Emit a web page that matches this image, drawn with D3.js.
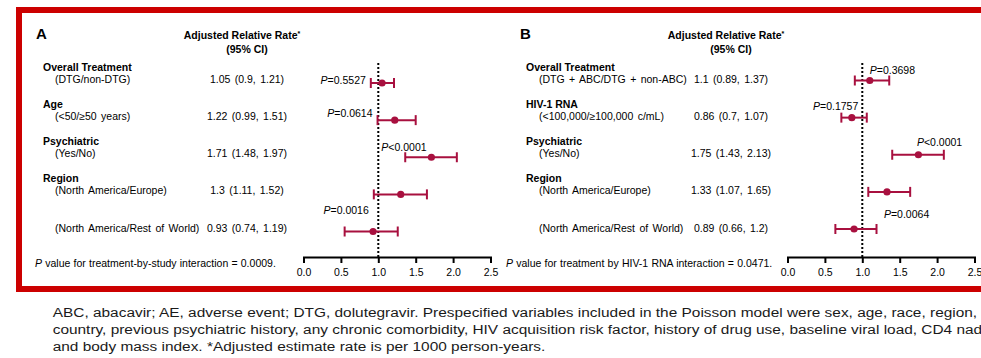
<!DOCTYPE html>
<html>
<head>
<meta charset="utf-8">
<script src="https://cdn.jsdelivr.net/npm/d3@7"></script>
<style>
  body { margin: 0; background: #fff; }
  svg text { font-family: "Liberation Sans", Arial, sans-serif; fill: #000; }
</style>
</head>
<body>
<svg id="chart" width="981" height="358"></svg>
<script>
// ---- data ----
const titlesA = ['Overall Treatment', 'Age', 'Psychiatric', 'Region', ''];
const subsA = ['(DTG/non-DTG)', '(<50/≥50 years)', '(Yes/No)', '(North America/Europe)', '(North America/Rest of World)'];
const estA = [1.05, 1.22, 1.71, 1.3, 0.93];
const lowA = [0.9, 0.99, 1.48, 1.11, 0.74];
const highA = [1.21, 1.51, 1.97, 1.52, 1.19];
// whiskers as drawn in panel A (some are wider than the printed CI)
const barLowA = [0.9, 0.99, 1.36, 0.94, 0.55];
const barHighA = [1.21, 1.5, 2.05, 1.65, 1.26];
const pA = ['=0.5527', '=0.0614', '<0.0001', '=0.0016'];
const noteA = ' value for treatment-by-study interaction = 0.0009.';

const titlesB = ['Overall Treatment', 'HIV-1 RNA', 'Psychiatric', 'Region', ''];
const subsB = ['(DTG + ABC/DTG + non-ABC)', '(<100,000/≥100,000 c/mL)', '(Yes/No)', '(North America/Europe)', '(North America/Rest of World)'];
const estB = [1.1, 0.86, 1.75, 1.33, 0.89];
const lowB = [0.89, 0.7, 1.43, 1.07, 0.66];
const highB = [1.37, 1.07, 2.13, 1.65, 1.2];
const barLowB = [0.9, 0.72, 1.4, 1.08, 0.64];
const barHighB = [1.36, 1.06, 2.09, 1.64, 1.19];
const pB = ['=0.3698', '=0.1757', '<0.0001', '=0.0064'];
const noteB = ' value for treatment by HIV-1 RNA interaction = 0.0471.';

const tickValues = [0, 0.5, 1, 1.5, 2, 2.5];
const footLines = [
  'ABC, abacavir; AE, adverse event; DTG, dolutegravir. Prespecified variables included in the Poisson model were sex, age, race, region,',
  'country, previous psychiatric history, any chronic comorbidity, HIV acquisition risk factor, history of drug use, baseline viral load, CD4 nadir,',
  'and body mass index. *Adjusted estimate rate is per 1000 person-years.'
];

// ---- layout ----
const red = '#cc0000';
const barColor = '#a8103f';
const fs = 10.5;

// where each P label sits: row (may be between rows), which x to hang it on, anchor, nudges
const pPlaceA = [
  { row: 0, of: 0, at: 'low', anchor: 'end', dx: -5, dy: 1 },
  { row: 1, of: 1, at: 'low', anchor: 'end', dx: -5, dy: -3.5 },
  { row: 2, of: 2, at: 'ref', anchor: 'start', dx: 3, dy: -6 },
  { row: 3.5, of: 3, at: 'ref', anchor: 'end', dx: -9.5, dy: 1.5 }
];
const pPlaceB = [
  { row: 0, of: 0, at: 'est', anchor: 'start', dx: 0, dy: -7 },
  { row: 1, of: 1, at: 'ref', anchor: 'end', dx: -4, dy: -8 },
  { row: 2, of: 2, at: 'est', anchor: 'start', dx: -1.5, dy: -9 },
  { row: 3.5, of: 3, at: 'est', anchor: 'start', dx: -3, dy: 8 }
];

const panels = [
  { letter: 'A', titles: titlesA, subs: subsA, est: estA, low: lowA, high: highA,
    barLow: barLowA, barHigh: barHighA, p: pA, note: noteA,
    pPlace: pPlaceA, dx: 0, barShift: 0, noteX: 35 },
  { letter: 'B', titles: titlesB, subs: subsB, est: estB, low: lowB, high: highB,
    barLow: barLowB, barHigh: barHighB, p: pB, note: noteB,
    pPlace: pPlaceB, dx: 484, barShift: -2.5, noteX: 506 }
];

const svg = d3.select('#chart');

// red frame (runs off the right edge like the source slide)
svg.append('rect')
  .attr('x', 19).attr('y', 10)
  .attr('width', 1000).attr('height', 279)
  .attr('fill', 'none')
  .attr('stroke', red)
  .attr('stroke-width', 6);

const rowY = d3.scaleLinear().domain([0, 4]).range([83, 231.5]);
const axisY = 257;

panels.forEach(pn => {
  const g = svg.append('g').attr('transform', `translate(${pn.dx},0)`);
  const x = d3.scaleLinear().domain([0, 2.5]).range([303.5, 490.5]);
  const valueX = 247;
  const by = i => rowY(i) + pn.barShift;

  g.append('text')
    .attr('x', 36).attr('y', 38.5)
    .attr('font-size', 15).attr('font-weight', 'bold')
    .text(pn.letter);

  const head = g.append('text')
    .attr('x', valueX - 5).attr('y', 38.5)
    .attr('text-anchor', 'middle')
    .attr('font-size', fs).attr('font-weight', 'bold');
  head.append('tspan').text('Adjusted Relative Rate');
  head.append('tspan').attr('font-size', 7).attr('dy', -3).text('*');
  g.append('text')
    .attr('x', valueX).attr('y', 52.5)
    .attr('text-anchor', 'middle')
    .attr('font-size', fs).attr('font-weight', 'bold')
    .text('(95% CI)');

  // row labels
  g.selectAll('.title').data(pn.titles).join('text')
    .attr('class', 'title')
    .attr('x', 43 + (pn.dx ? -1 : 0)).attr('y', (d, i) => rowY(i) - 12.5)
    .attr('font-size', fs).attr('font-weight', 'bold')
    .text(d => d);
  g.selectAll('.sub').data(pn.subs).join('text')
    .attr('class', 'sub')
    .attr('x', 55).attr('y', (d, i) => rowY(i))
    .attr('font-size', fs).attr('word-spacing', 1.5)
    .text(d => d);
  g.selectAll('.val').data(pn.est).join('text')
    .attr('class', 'val')
    .attr('x', valueX).attr('y', (d, i) => rowY(i))
    .attr('text-anchor', 'middle')
    .attr('font-size', fs).attr('word-spacing', 1.5)
    .text((d, i) => `${d} (${pn.low[i]}, ${pn.high[i]})`);

  // reference line at 1
  g.append('line')
    .attr('x1', x(1)).attr('x2', x(1))
    .attr('y1', 63).attr('y2', axisY)
    .attr('stroke', '#000').attr('stroke-width', 2)
    .attr('stroke-dasharray', '2,2');

  // error bars
  const bars = g.selectAll('.bar').data(pn.est).join('g').attr('class', 'bar');
  bars.append('line')
    .attr('x1', (d, i) => x(pn.barLow[i])).attr('x2', (d, i) => x(pn.barHigh[i]))
    .attr('y1', (d, i) => by(i)).attr('y2', (d, i) => by(i))
    .attr('stroke', barColor).attr('stroke-width', 2);
  [pn.barLow, pn.barHigh].forEach(arr => {
    bars.append('line')
      .attr('x1', (d, i) => x(arr[i])).attr('x2', (d, i) => x(arr[i]))
      .attr('y1', (d, i) => by(i) - 5).attr('y2', (d, i) => by(i) + 5)
      .attr('stroke', barColor).attr('stroke-width', 2);
  });
  bars.append('circle')
    .attr('cx', d => x(d)).attr('cy', (d, i) => by(i))
    .attr('r', 3.6).attr('fill', barColor);

  // P labels
  pn.pPlace.forEach((pl, k) => {
    const xv = pl.at === 'ref' ? 1 : pl.at === 'low' ? pn.barLow[pl.of] : pn.est[pl.of];
    const t = g.append('text')
      .attr('x', x(xv) + pl.dx).attr('y', by(pl.row) + pl.dy)
      .attr('text-anchor', pl.anchor)
      .attr('font-size', fs);
    t.append('tspan').attr('font-style', 'italic').text('P');
    t.append('tspan').text(pn.p[k]);
  });

  // interaction note
  const nt = g.append('text')
    .attr('x', pn.noteX - pn.dx).attr('y', 266.5)
    .attr('font-size', fs).attr('word-spacing', 0.3);
  nt.append('tspan').attr('font-style', 'italic').text('P');
  nt.append('tspan').text(pn.note);

  // axis
  const axis = d3.axisBottom(x)
    .tickValues(tickValues)
    .tickFormat(d3.format('.1f'))
    .tickSize(6).tickSizeOuter(6).tickPadding(6);
  const ag = g.append('g').attr('transform', `translate(0,${axisY})`).call(axis);
  ag.select('.domain').attr('stroke-width', 2);
  ag.selectAll('.tick line').attr('stroke-width', 2);
  ag.selectAll('.tick text').attr('font-size', fs).attr('font-family', null);
});

// footnote under the frame, squeezed/stretched to the width it has in the source
const foot = svg.append('g');
foot.selectAll('text').data(footLines).join('text')
  .attr('x', 0).attr('y', (d, i) => 317 + i * 17)
  .attr('font-size', 13.5)
  .style('fill', '#1a1a1a')
  .text(d => d);
const firstLen = foot.select('text').node().getComputedTextLength();
const sx = 925 / firstLen;
foot.attr('transform', `translate(52.7,0) scale(${sx},1)`);
</script>
</body>
</html>
